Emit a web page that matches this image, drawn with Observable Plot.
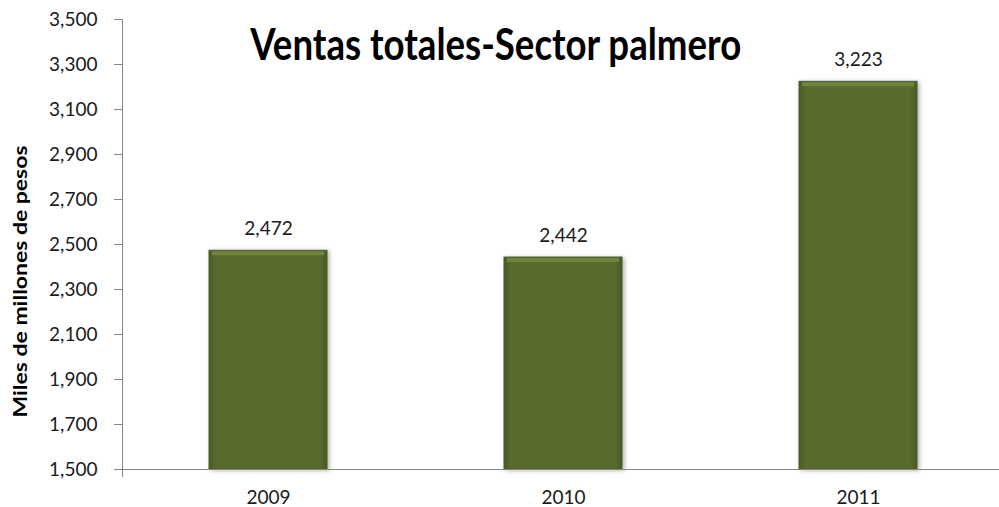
<!DOCTYPE html>
<html>
<head>
<meta charset="utf-8">
<script src="https://cdn.jsdelivr.net/npm/d3@7"></script>
<script src="https://cdn.jsdelivr.net/npm/@observablehq/plot@0.6"></script>
<style>
  html, body { margin: 0; padding: 0; background: #ffffff; }
  #chart svg { display: block; font-family: Lato, "Open Sans", sans-serif; }
</style>
</head>
<body>
<div id="chart"></div>
<script>
const years = ["2009", "2010", "2011"];
const ventas = [2472, 2442, 3223];
const yTicks = [1500, 1700, 1900, 2100, 2300, 2500, 2700, 2900, 3100, 3300, 3500];
const yDomain = [1500, 3500];
const title = "Ventas totales-Sector palmero";
const yLabel = "Miles de millones de pesos";

const data = years.map((year, i) => ({year, value: ventas[i]}));
const fmt = d3.format(",");

const chart = Plot.plot({
  width: 999,
  height: 507,
  marginTop: 19,
  marginBottom: 38,
  marginLeft: 122,
  marginRight: 0,
  style: {fontFamily: "Lato, 'Open Sans', sans-serif", color: "#1a1a1a", background: "#ffffff"},
  x: {domain: years, range: [120, 1005], paddingInner: 0.6, paddingOuter: 0.3, label: null},
  y: {domain: yDomain, ticks: yTicks, label: null},
  marks: [
    Plot.barY(data, {x: "year", y1: () => yDomain[0], y2: "value", fill: "url(#barGrad)", stroke: "#4d5d25", strokeWidth: 1}),
    Plot.tickY(data, {x: "year", y: "value", stroke: "#71843f", strokeWidth: 4, dy: 2.5, insetLeft: 3, insetRight: 3}),
    Plot.ruleY([yDomain[0]], {stroke: "#868686", strokeWidth: 1}),
    Plot.axisY({ticks: yTicks, tickFormat: fmt, tickSize: 8, tickPadding: 17, fontSize: 19, stroke: "#868686", fill: "#1a1a1a", label: null}),
    Plot.axisX({tickSize: 0, tickPadding: 21, fontSize: 19, fill: "#1a1a1a", label: null}),
    Plot.text(data, {x: "year", y: "value", text: d => fmt(d.value), dy: -22, fontSize: 19, fill: "#1a1a1a"}),
    Plot.text([title], {frameAnchor: "top-left", dx: 128, dy: 9, textAnchor: "start", lineAnchor: "top", fontSize: 44, fontWeight: "bold", fill: "#000000"}),
    Plot.text([yLabel], {frameAnchor: "left", dx: -102, dy: 173, rotate: -90, textAnchor: "start", fontSize: 19, fontWeight: "bold", fill: "#000000"})
  ]
});

// gradient for beveled bars
const svg = d3.select(chart);
const defs = svg.insert("defs", ":first-child");
const g = defs.append("linearGradient").attr("id", "barGrad").attr("x1", 0).attr("x2", 1).attr("y1", 0).attr("y2", 0);
g.append("stop").attr("offset", "0%").attr("stop-color", "#4a5a24");
g.append("stop").attr("offset", "6%").attr("stop-color", "#596b2f");
g.append("stop").attr("offset", "94%").attr("stop-color", "#596b2f");
g.append("stop").attr("offset", "100%").attr("stop-color", "#4a5a24");

svg.selectAll("g[aria-label=bar]").style("filter", "drop-shadow(2px 1px 2px rgba(0,0,0,0.3))");

// y axis line via the y scale
const ys = chart.scale("y");
svg.append("line")
  .attr("x1", 122.5).attr("x2", 122.5)
  .attr("y1", ys.apply(yDomain[1])).attr("y2", ys.apply(yDomain[0]) + 8)
  .attr("stroke", "#868686");

document.getElementById("chart").appendChild(chart);

// fit title width to the reference by horizontal scaling in the text's local coordinates
const texts = svg.selectAll("g[aria-label=text]").nodes();
const titleNode = d3.select(texts[texts.length - 2]).select("text").node();
const bb = titleNode.getBBox();
const s = 492 / bb.width;
const prev = titleNode.getAttribute("transform") || "";
titleNode.setAttribute("transform", `${prev} translate(${bb.x},0) scale(${s},1) translate(${-bb.x},0)`);

const yLabText = d3.select(texts[texts.length - 1]).select("text");
yLabText.attr("textLength", 272).attr("lengthAdjust", "spacingAndGlyphs");
</script>
</body>
</html>
